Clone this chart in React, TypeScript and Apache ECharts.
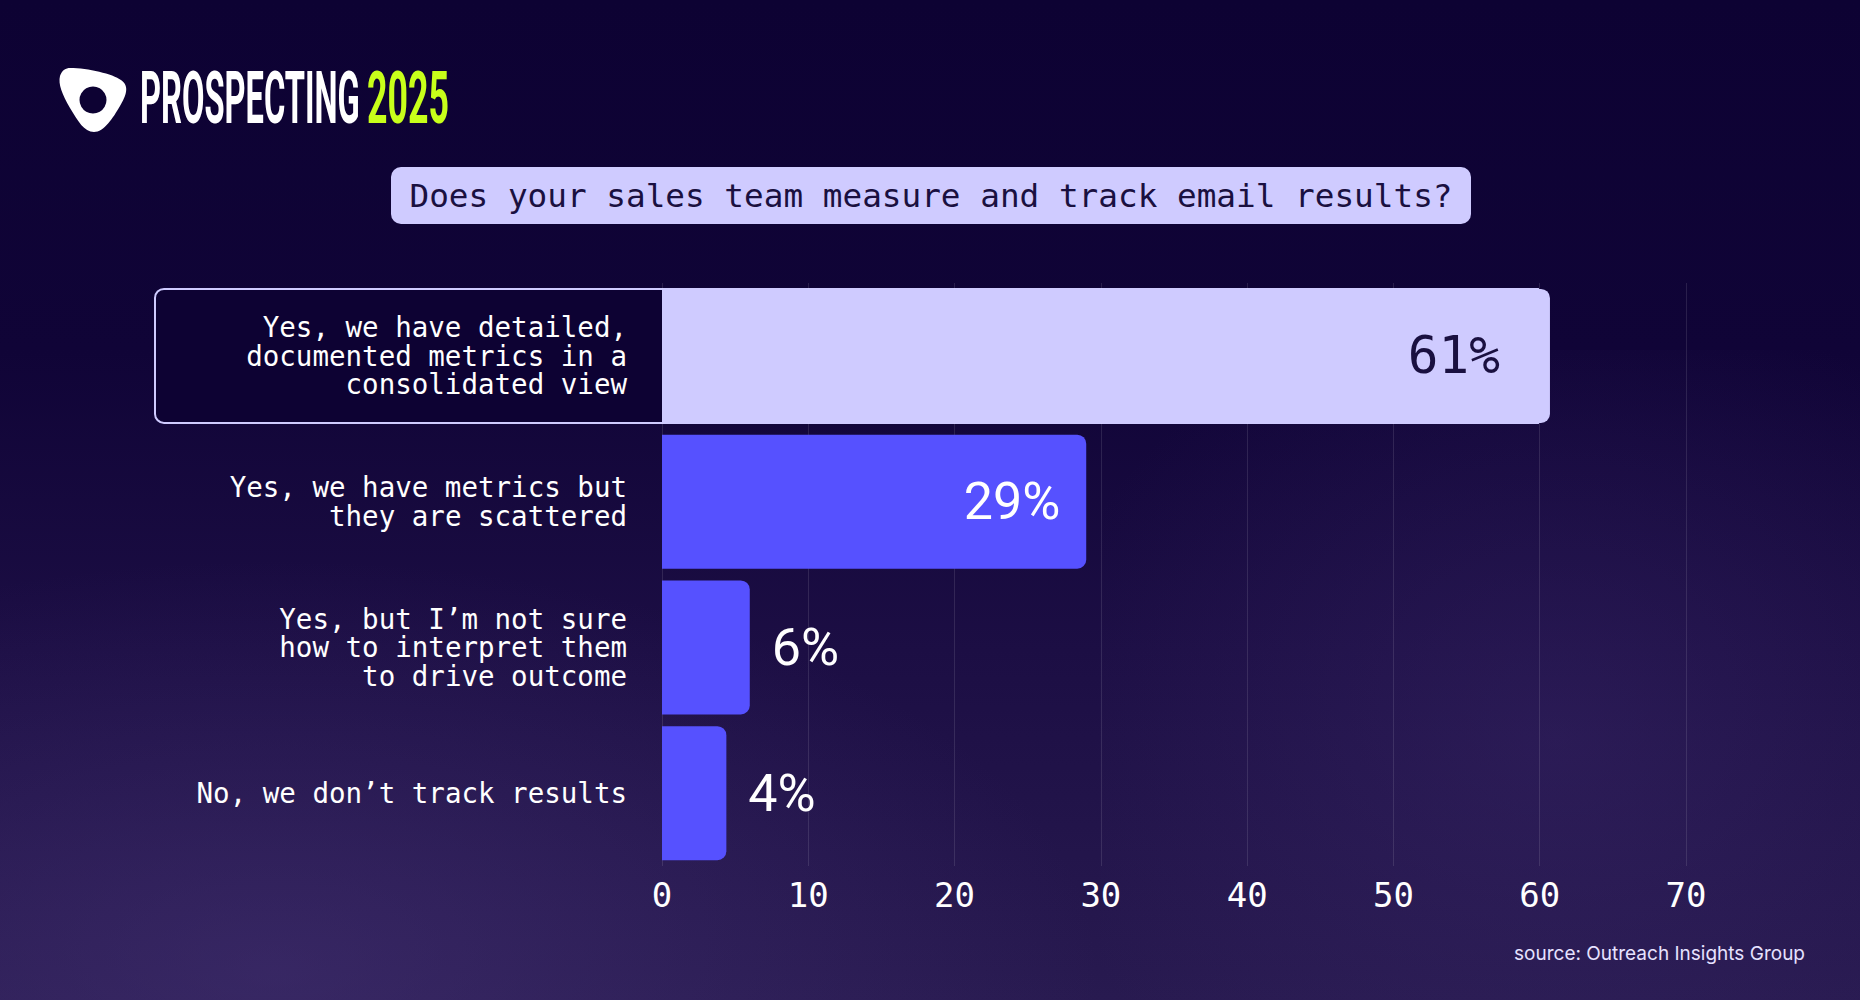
import React, { useEffect, useRef } from "react";
import * as echarts from "echarts";

const categories = [
  "Yes, we have detailed,\ndocumented metrics in a\nconsolidated view",
  "Yes, we have metrics but\nthey are scattered",
  "Yes, but I’m not sure\nhow to interpret them\nto drive outcome",
  "No, we don’t track results",
];
const values = [60.7, 29, 6, 4.4];
const highlightIndex = 0;
const axisMin = 0;
const axisMax = 70;
const axisStep = 10;

const titleText = "Does your sales team measure and track email results?";
const brandWord = "PROSPECTING";
const brandYear = "2025";
const sourceText = "source: Outreach Insights Group";

const BG_DARK = "#0d0233";
const LAVENDER = "#cfcbff";
const BLUE = "#5651ff";
const NAVY = "#1a1040";

const LOGO_PATH =
  "M 12 2 C 30 2 55 8 63 14 C 72 20 68 30 62 40 C 55 52 46 66 36 66 C 26 66 20 55 12 42 C 4 28 0 18 2 10 C 4 4 8 2 12 2 Z";

let registered = false;

function measure(text: string, font: string): number {
  const c = document.createElement("canvas");
  const ctx = c.getContext("2d");
  if (!ctx) return 1;
  ctx.font = font;
  return ctx.measureText(text).width || 1;
}

export default function App() {
  const ref = useRef<HTMLDivElement>(null);

  useEffect(() => {
    if (!ref.current) return;
    if (!registered) {
      echarts.graphic.registerShape("outreachLogo", echarts.graphic.extendPath(LOGO_PATH, {}) as any);
      registered = true;
    }
    const chart = echarts.init(ref.current, undefined, { renderer: "svg" });

    const brandFont = "bold 73px Roboto";
    const wordScale = 220 / measure(brandWord, brandFont);
    const yearScale = 82 / measure(brandYear, brandFont);

    const barData = values.map((v, i) => {
      let label: any;
      if (i === highlightIndex) {
        label = {
          show: true,
          position: "insideRight",
          distance: 50,
          color: NAVY,
          fontFamily: "DejaVu Sans Mono",
          fontSize: 51,
        };
      } else if (v > 15) {
        label = {
          show: true,
          position: "insideRight",
          distance: 26,
          color: "#ffffff",
          fontFamily: "Roboto",
          fontSize: 52,
        };
      } else {
        label = {
          show: true,
          position: "right",
          distance: 22,
          color: "#ffffff",
          fontFamily: "Roboto",
          fontSize: 52,
        };
      }
      label.formatter = (p: any) => Math.round(p.value) + "%";
      return {
        value: v,
        itemStyle: {
          color: i === highlightIndex ? LAVENDER : BLUE,
          borderRadius: [0, 9, 9, 0],
        },
        label,
      };
    });

    const option: any = {
      animation: false,
      backgroundColor: {
        type: "linear",
        x: 0,
        y: 0,
        x2: 0,
        y2: 1,
        colorStops: [
          { offset: 0, color: "#0d0233" },
          { offset: 0.35, color: "#100437" },
          { offset: 0.65, color: "#1c0e44" },
          { offset: 1, color: "#281a50" },
        ],
      },
      grid: { left: 662, right: 174, top: 283, bottom: 134, containLabel: false },
      xAxis: {
        type: "value",
        min: axisMin,
        max: axisMax,
        interval: axisStep,
        axisLine: { show: false },
        axisTick: { show: false },
        splitLine: { show: true, lineStyle: { color: "rgba(255,255,255,0.11)", width: 1 } },
        axisLabel: {
          color: "#ffffff",
          fontFamily: "DejaVu Sans Mono",
          fontSize: 34,
          margin: 12,
        },
      },
      yAxis: {
        type: "category",
        data: categories,
        inverse: true,
        axisLine: { show: false },
        axisTick: { show: false },
        splitLine: { show: false },
        axisLabel: {
          color: "#ffffff",
          fontFamily: "DejaVu Sans Mono",
          fontSize: 27.5,
          lineHeight: 28.5,
          margin: 35,
          align: "right",
          padding: [6, 0, 0, 0],
        },
      },
      series: [
        {
          type: "custom",
          z: -1,
          clip: false,
          silent: true,
          encode: { x: 0, y: 1 },
          data: [[values[highlightIndex], highlightIndex]],
          renderItem: (params: any, api: any) => {
            const end = api.coord([api.value(0), api.value(1)]);
            const h = 134;
            const left = 155;
            return {
              type: "rect",
              shape: { x: left, y: end[1] - h / 2, width: end[0] - left - 12, height: h, r: [9, 0, 0, 9] },
              style: { fill: BG_DARK, stroke: LAVENDER, lineWidth: 2 },
            };
          },
        },
        {
          type: "bar",
          z: 2,
          barWidth: 134,
          data: barData,
        },
      ],
      graphic: [
        {
          type: "rect",
          z: -10,
          silent: true,
          shape: { x: 0, y: 450, width: 1100, height: 550 },
          style: {
            fill: new echarts.graphic.RadialGradient(0.25, 0.95, 0.75, [
              { offset: 0, color: "rgba(80,60,130,0.4)" },
              { offset: 1, color: "rgba(80,60,130,0)" },
            ]),
          },
        },
        {
          type: "rect",
          z: -10,
          silent: true,
          shape: { x: 1100, y: 350, width: 760, height: 650 },
          style: {
            fill: new echarts.graphic.RadialGradient(0.6, 0.6, 0.7, [
              { offset: 0, color: "rgba(70,50,120,0.3)" },
              { offset: 1, color: "rgba(70,50,120,0)" },
            ]),
          },
        },
        {
          type: "outreachLogo",
          x: 58,
          y: 66,
          style: { fill: "#ffffff" },
        },
        {
          type: "circle",
          shape: { cx: 93, cy: 100, r: 13.5 },
          style: { fill: BG_DARK },
        },
        {
          type: "text",
          x: 140,
          y: 98,
          scaleX: wordScale,
          style: {
            text: brandWord,
            font: brandFont,
            fill: "#ffffff",
            align: "left",
            verticalAlign: "middle",
          },
        },
        {
          type: "text",
          x: 367,
          y: 98,
          scaleX: yearScale,
          style: {
            text: brandYear,
            font: brandFont,
            fill: "#c8ff1a",
            align: "left",
            verticalAlign: "middle",
          },
        },
        {
          type: "rect",
          shape: { x: 391, y: 167, width: 1080, height: 57, r: 10 },
          style: { fill: LAVENDER },
        },
        {
          type: "text",
          x: 931,
          y: 196,
          style: {
            text: titleText,
            fontFamily: "DejaVu Sans Mono",
            fontSize: 32.7,
            fill: NAVY,
            align: "center",
            verticalAlign: "middle",
          },
        },
        {
          type: "text",
          x: 1805,
          y: 953,
          style: {
            text: sourceText,
            fontFamily: "Inter",
            fontSize: 19,
            fill: "#e6e2ff",
            align: "right",
            verticalAlign: "middle",
          },
        },
      ],
    };

    chart.setOption(option);
    return () => {
      chart.dispose();
    };
  }, []);

  return (
    <div
      ref={ref}
      style={{ position: "fixed", left: 0, top: 0, width: 1860, height: 1000 }}
    />
  );
}
